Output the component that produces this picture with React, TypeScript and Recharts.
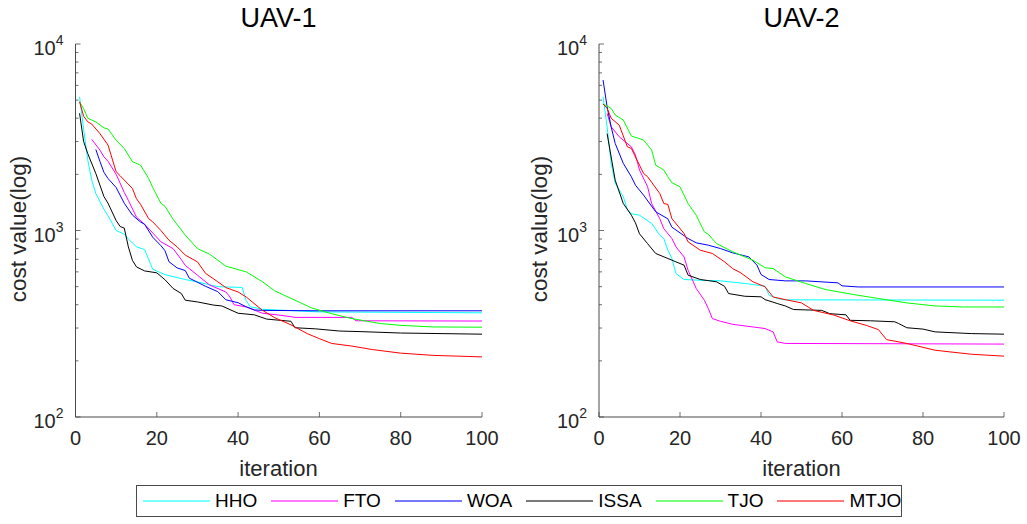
import React from 'react';
import { LineChart, Line, XAxis, YAxis } from 'recharts';

const FONT = '"Liberation Sans", Arial, Helvetica, sans-serif';
const AX = '#262626';
const AXLINE = '#4a4a4a';

// ---- data ----
const seriesNames = ['HHO', 'FTO', 'WOA', 'ISSA', 'TJO', 'MTJO'];
const seriesColors = ['#00FFFF', '#FF00FF', '#0000FF', '#000000', '#00FF00', '#FF0000'];
const iterTicks = [0, 20, 40, 60, 80, 100];
const logTicks = [100, 200, 300, 400, 500, 600, 700, 800, 900, 1000, 2000, 3000, 4000, 5000, 6000, 7000, 8000, 9000, 10000];
const panelTitles = ['UAV-1', 'UAV-2'];

// UAV-1 : [iteration, cost]
const uav1HHO = [[1,5210],[2,3500],[3,2400],[4,1860],[5,1580],[7,1300],[8,1200],[10,1000],[12,955],[13,900],[15,818],[17,790],[19,620],[22,580],[27,546],[30,530],[35,500],[41,495],[42,420],[43,390],[46,378],[60,366],[100,362]];
const uav1FTO = [[4,3080],[6,2700],[7,2480],[8,2350],[10,2000],[12,1600],[13,1450],[15,1180],[17,1080],[19,970],[21,870],[24,800],[26,700],[27,650],[30,576],[33,510],[37,468],[38,440],[39,400],[42,389],[46,360],[50,352],[53,345],[54,342],[68,342],[69,328],[100,327]];
const uav1WOA = [[5,2720],[6,2350],[7,2050],[8,1900],[10,1700],[12,1400],[14,1210],[16,1110],[17,1080],[19,920],[21,830],[22,780],[23,680],[25,630],[27,610],[28,555],[32,502],[35,470],[37,425],[40,410],[42,390],[44,375],[46,373],[60,371],[100,371]];
const uav1ISSA = [[1,4250],[2,3000],[3,2590],[5,2020],[7,1520],[8,1400],[10,1130],[11,1050],[12,1030],[13,817],[14,692],[15,638],[17,607],[20,593],[22,545],[24,489],[26,460],[27,423],[30,414],[34,398],[36,394],[40,360],[44,353],[47,335],[53,326],[54,301],[59,297],[65,289],[70,287],[80,282],[100,278]];
const uav1TJO = [[1,4900],[2,4500],[3,4000],[5,3820],[7,3550],[8,3500],[10,3050],[12,2750],[14,2340],[16,2240],[18,1900],[19,1700],[21,1400],[22,1350],[24,1150],[27,944],[30,800],[33,746],[37,644],[42,600],[46,531],[49,475],[51,453],[54,423],[58,385],[63,358],[68,337],[75,317],[80,310],[88,304],[100,303]];
const uav1MTJO = [[1,4900],[2,4100],[3,3830],[4,3720],[6,3310],[8,2870],[10,2065],[11,1965],[14,1680],[15,1480],[16,1380],[18,1158],[19,1113],[21,1000],[23,887],[25,817],[27,738],[30,679],[32,589],[35,531],[37,494],[40,468],[42,440],[46,373],[49,341],[53,312],[57,280],[60,263],[63,248],[68,240],[73,230],[80,220],[88,214],[100,210]];

// UAV-2 : [iteration, cost]
const uav2HHO = [[1,5210],[2,3600],[3,2290],[4,1800],[6,1515],[7,1300],[8,1230],[10,1208],[13,1090],[15,944],[16,906],[17,784],[18,708],[19,588],[21,546],[25,541],[30,537],[36,520],[41,503],[42,450],[44,432],[46,425],[100,423]];
const uav2FTO = [[2,4250],[3,3600],[5,3180],[8,2810],[9,2540],[10,2110],[12,1715],[13,1395],[15,1158],[16,1023],[18,906],[19,817],[21,722],[22,612],[24,489],[26,423],[27,381],[28,337],[30,326],[33,314],[38,304],[41,298],[43,286],[44,253],[46,248],[100,246]];
const uav2WOA = [[1,6410],[2,4610],[3,3600],[4,2930],[6,2290],[8,1940],[9,1750],[11,1548],[14,1260],[17,1155],[18,1042],[22,906],[24,859],[27,834],[30,800],[33,759],[37,722],[39,652],[40,581],[42,546],[46,537],[51,537],[59,524],[60,505],[64,498],[100,498]];
const uav2ISSA = [[2,3310],[4,1860],[6,1395],[8,1208],[9,1099],[10,960],[12,850],[14,753],[17,708],[19,679],[21,652],[22,576],[25,546],[29,531],[31,502],[32,459],[36,444],[40,441],[41,426],[44,406],[46,394],[48,377],[55,373],[57,358],[61,353],[62,330],[67,328],[73,324],[74,317],[76,301],[80,296],[83,286],[92,280],[100,278]];
const uav2TJO = [[1,4770],[3,4520],[4,4160],[6,3910],[8,3210],[11,3055],[13,2700],[14,2240],[16,2110],[17,1942],[18,1803],[20,1715],[22,1395],[24,1208],[26,984],[27,955],[29,852],[33,769],[38,693],[41,632],[43,625],[46,564],[51,520],[56,482],[63,453],[69,432],[76,409],[83,394],[90,389],[100,389]];
const uav2MTJO = [[1,4770],[2,4520],[3,4000],[5,3670],[7,2810],[8,2755],[9,2480],[11,2024],[12,1942],[15,1580],[16,1395],[17,1380],[18,1158],[21,964],[22,869],[25,784],[28,753],[31,679],[33,625],[35,593],[38,531],[41,499],[43,440],[46,426],[50,409],[53,373],[58,352],[62,328],[66,310],[69,294],[71,260],[76,248],[83,228],[92,217],[100,212]];

const uav1Series = [uav1HHO, uav1FTO, uav1WOA, uav1ISSA, uav1TJO, uav1MTJO];
const uav2Series = [uav2HHO, uav2FTO, uav2WOA, uav2ISSA, uav2TJO, uav2MTJO];

const toRows = (pairs: number[][]) => pairs.map(([x, y]) => ({ x, y }));

// ---- tick renderers ----
const isMajor = (v: number) => {
  const e = Math.round(Math.log10(v));
  return Math.abs(v - Math.pow(10, e)) < 1e-6;
};

function LeftTick(props: any) {
  const { x, y, payload } = props;
  const v = payload.value;
  const major = isMajor(v);
  const e = Math.round(Math.log10(v));
  return (
    <g>
      <line x1={x} x2={x + (major ? 5 : 3)} y1={y} y2={y} stroke={AXLINE} strokeWidth={0.8} />
      {major && (
        <text x={x - 12} y={y + 11} textAnchor="end" fontSize={20} fill={AX} fontFamily={FONT}>
          10
          <tspan fontSize={14} dy={-10}>{e}</tspan>
        </text>
      )}
    </g>
  );
}

function RightTick(props: any) {
  const { x, y, payload } = props;
  const major = isMajor(payload.value);
  return <line x1={x} x2={x - (major ? 5 : 3)} y1={y} y2={y} stroke={AXLINE} strokeWidth={0.8} />;
}

function BottomTick(props: any) {
  const { x, y, payload } = props;
  return (
    <g>
      <line x1={x} x2={x} y1={y} y2={y - 5} stroke={AXLINE} strokeWidth={0.8} />
      <text x={x} y={y + 28} textAnchor="middle" fontSize={20} fill={AX} fontFamily={FONT}>
        {payload.value}
      </text>
    </g>
  );
}

function TopTick(props: any) {
  const { x, y } = props;
  return <line x1={x} x2={x} y1={y} y2={y + 5} stroke={AXLINE} strokeWidth={0.8} />;
}

function Panel({ series, left, width, marginLeft, marginRight }: any) {
  return (
    <div style={{ position: 'absolute', left, top: 0 }}>
      <LineChart width={width} height={470} margin={{ top: 44, right: marginRight, bottom: 23, left: marginLeft }}>
        <XAxis
          xAxisId="b"
          dataKey="x"
          type="number"
          domain={[0, 100]}
          ticks={iterTicks}
          interval={0}
          allowDataOverflow
          height={30}
          tickSize={0}
          tickMargin={0}
          tickLine={false}
          axisLine={{ stroke: AXLINE, strokeWidth: 1 }}
          tick={<BottomTick />}
        />
        <XAxis
          xAxisId="t"
          orientation="top"
          dataKey="x"
          type="number"
          domain={[0, 100]}
          ticks={iterTicks}
          interval={0}
          allowDataOverflow
          height={0}
          tickSize={0}
          tickMargin={0}
          tickLine={false}
          axisLine={{ stroke: AXLINE, strokeWidth: 1 }}
          tick={<TopTick />}
        />
        <YAxis
          yAxisId="l"
          scale="log"
          type="number"
          domain={[100, 10000]}
          ticks={logTicks}
          interval={0}
          allowDataOverflow
          width={60}
          tickSize={0}
          tickMargin={0}
          tickLine={false}
          axisLine={{ stroke: AXLINE, strokeWidth: 1 }}
          tick={<LeftTick />}
        />
        <YAxis
          yAxisId="r"
          orientation="right"
          scale="log"
          type="number"
          domain={[100, 10000]}
          ticks={logTicks}
          interval={0}
          allowDataOverflow
          width={0}
          tickSize={0}
          tickMargin={0}
          tickLine={false}
          axisLine={{ stroke: AXLINE, strokeWidth: 1 }}
          tick={<RightTick />}
        />
        {series.map((pairs: number[][], i: number) => (
          <Line
            key={seriesNames[i]}
            xAxisId="b"
            yAxisId="l"
            data={toRows(pairs)}
            dataKey="y"
            type="linear"
            stroke={seriesColors[i]}
            strokeWidth={1}
            dot={false}
            activeDot={false}
            isAnimationActive={false}
          />
        ))}
      </LineChart>
    </div>
  );
}

export default function App() {
  const centers = [278.5, 801.5];
  const yLabelX = [26, 547];
  return (
    <div style={{ position: 'absolute', left: 0, top: 0, width: 1027, height: 524, background: '#fff', fontFamily: FONT, overflow: 'hidden' }}>
      <Panel series={uav1Series} left={0} width={520} marginLeft={15.5} marginRight={38} />
      <Panel series={uav2Series} left={520} width={507} marginLeft={19} marginRight={23} />
      <svg width={1027} height={524} style={{ position: 'absolute', left: 0, top: 0, pointerEvents: 'none' }}>
        {panelTitles.map((t, i) => (
          <text key={t} x={centers[i]} y={27} textAnchor="middle" fontSize={27} fill="#000" fontFamily={FONT}>{t}</text>
        ))}
        {centers.map((c, i) => (
          <text key={'it' + i} x={c} y={476} textAnchor="middle" fontSize={22} fill={AX} fontFamily={FONT}>iteration</text>
        ))}
        {yLabelX.map((x, i) => (
          <text key={'yl' + i} x={x} y={229} textAnchor="middle" fontSize={22.5} fill={AX} fontFamily={FONT} transform={`rotate(-90 ${x} 229)`}>cost value(log)</text>
        ))}
      </svg>
      <div
        style={{
          position: 'absolute',
          left: 136,
          top: 485,
          width: 766,
          height: 32,
          boxSizing: 'border-box',
          border: `1px solid ${AXLINE}`,
          background: '#fff',
          display: 'flex',
          alignItems: 'center',
          paddingLeft: 6,
          gap: 14,
        }}
      >
        {seriesNames.map((n, i) => (
          <div key={n} style={{ display: 'flex', alignItems: 'center' }}>
            <svg width={67} height={4} style={{ display: 'block', marginRight: 5 }}>
              <line x1={0} x2={67} y1={2} y2={2} stroke={seriesColors[i]} strokeWidth={1.5} strokeOpacity={0.7} />
            </svg>
            <span style={{ fontSize: 19, color: '#000', fontFamily: FONT, lineHeight: '20px' }}>{n}</span>
          </div>
        ))}
      </div>
    </div>
  );
}
